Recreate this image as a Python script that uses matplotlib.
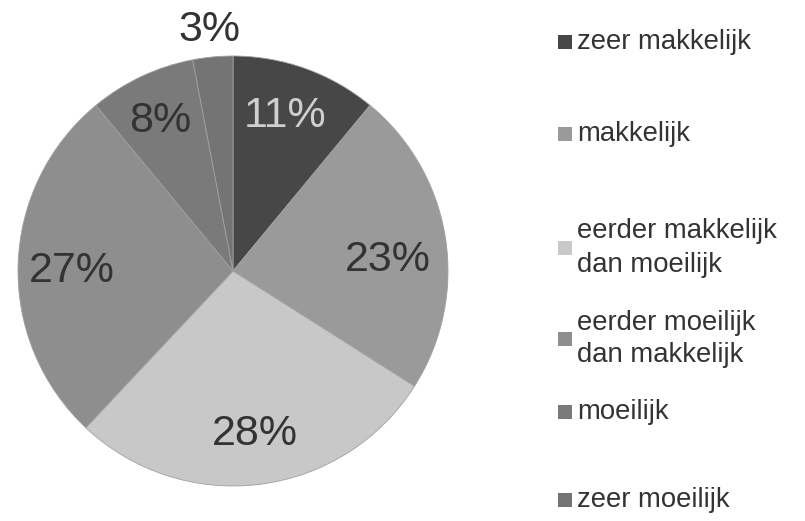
import matplotlib
matplotlib.use("Agg")
import matplotlib.pyplot as plt
from matplotlib.patches import Rectangle

categories = ["zeer makkelijk", "makkelijk", "eerder makkelijk\ndan moeilijk",
              "eerder moeilijk\ndan makkelijk", "moeilijk", "zeer moeilijk"]
values = [11, 23, 28, 27, 8, 3]
pct_labels = ["11%", "23%", "28%", "27%", "8%", "3%"]

colors = ["#474747", "#9a9a9a", "#c8c8c8", "#8e8e8e", "#7a7a7a", "#747474"]
label_colors = ["#cfcfcf", "#333333", "#333333", "#333333", "#333333", "#333333"]
# label positions (in pie radius units) - layout only
label_pos = [(0.24, 0.72), (0.72, 0.05), (0.10, -0.76), (-0.75, 0.0), (-0.34, 0.70), (-0.11, 1.12)]
legend_y = [42, 134, 248, 339, 412, 500]  # pixel rows (layout)

plt.rcParams['font.family'] = ['Liberation Sans', 'DejaVu Sans']
W, H = 805, 521
fig = plt.figure(figsize=(W / 100, H / 100), dpi=100)
fig.patch.set_facecolor("white")

cx, cy, r = 233, 271, 215
ax = fig.add_axes([(cx - r) / W, (H - cy - r) / H, 2 * r / W, 2 * r / H])
wedges, _ = ax.pie(values, colors=colors, startangle=90, counterclock=False,
                   radius=1, wedgeprops=dict(edgecolor="#a0a0a0", linewidth=0.6))
ax.set_xlim(-1, 1)
ax.set_ylim(-1, 1)
ax.set_aspect("equal")
ax.axis("off")

for lab, (x, y), c in zip(pct_labels, label_pos, label_colors):
    ax.text(x, y, lab, ha="center", va="center", fontsize=31, color=c, clip_on=False)

# legend
for cat, col, yp in zip(categories, colors, legend_y):
    sq = 14
    fig.patches.append(Rectangle((558 / W, (H - yp - sq / 2) / H), sq / W, sq / H,
                                 transform=fig.transFigure, facecolor=col, edgecolor="none"))
    fig.text(577 / W, (H - yp) / H, cat, ha="left", va="center", fontsize=19.8,
             color="#333333", linespacing=1.35)

fig.savefig("out.png", dpi=100)
